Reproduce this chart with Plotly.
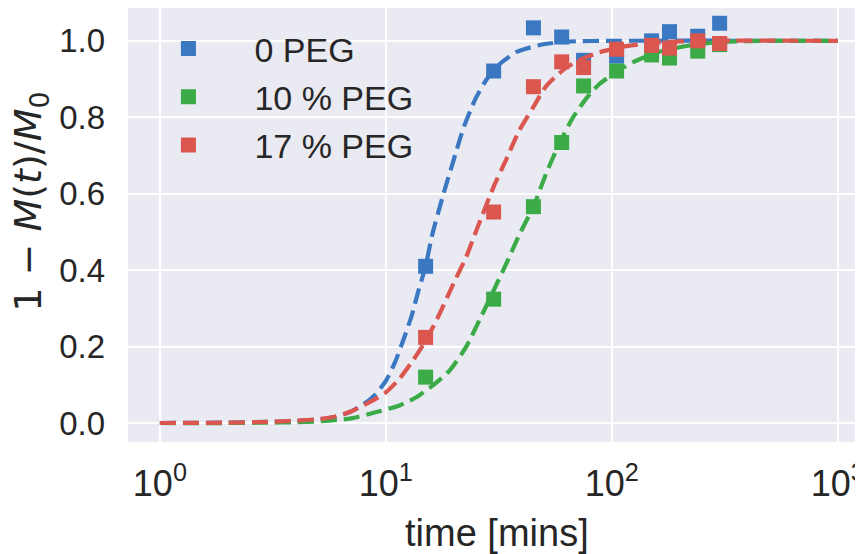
import plotly.graph_objects as go

# measured time points (minutes)
t_data = [15, 30, 45, 60, 75, 105, 150, 180, 240, 300]
peg0 = [0.410, 0.921, 1.034, 1.010, 0.949, 0.960, 1.000, 1.024, 1.012, 1.046]
peg10 = [0.120, 0.324, 0.566, 0.734, 0.882, 0.921, 0.963, 0.955, 0.973, 0.990]
peg17 = [0.224, 0.552, 0.880, 0.945, 0.930, 0.978, 0.988, 0.981, 1.000, 0.993]

# fitted curves
fit0_t = [1, 2, 3, 4, 5, 6, 7, 8, 9, 10, 11, 12, 13, 14, 15, 16, 18, 20, 22, 25,
          28, 32, 38, 48, 63, 100, 1000]
fit0_y = [0, 0.001, 0.003, 0.005, 0.009, 0.016, 0.03, 0.05, 0.075, 0.11, 0.16,
          0.22, 0.28, 0.35, 0.41, 0.49, 0.60, 0.69, 0.77, 0.85, 0.90, 0.94, 0.971,
          0.989, 0.998, 1.0, 1.0]
fit10_t = [1, 2, 3, 4, 5, 7, 9, 11.5, 13.7, 16.2, 19.2, 22.7, 26, 29.3, 34, 39.2,
           45, 51.4, 59, 67.4, 77.3, 87.4, 104, 125, 163, 245, 367, 1000]
fit10_y = [0, 0, 0.001, 0.002, 0.004, 0.012, 0.028, 0.046, 0.068, 0.099, 0.138,
           0.2, 0.27, 0.334, 0.415, 0.496, 0.566, 0.655, 0.735, 0.80, 0.85, 0.885,
           0.918, 0.945, 0.972, 0.992, 0.999, 1.0]
fit17_t = [1, 2, 3, 4, 5, 6, 7, 8, 9, 10, 11.5, 13.2, 15, 17.3, 20, 22.7, 25.2,
           30, 34, 39, 45, 51, 61, 72, 88, 116, 163, 250, 1000]
fit17_y = [0, 0.001, 0.003, 0.006, 0.01, 0.017, 0.03, 0.047, 0.063, 0.08, 0.116,
           0.164, 0.215, 0.286, 0.367, 0.435, 0.505, 0.618, 0.688, 0.766, 0.827,
           0.88, 0.924, 0.95, 0.97, 0.986, 0.996, 1.0, 1.0]

names = ['0 PEG', '10 % PEG', '17 % PEG']
colors = ['#3a78c2', '#3aab47', '#dc5650']

x_ticks = [1, 10, 100, 1000]
x_ticktext = ['10<sup>0</sup>', '10<sup>1</sup>', '10<sup>2</sup>', '10<sup>3</sup>']
y_ticks = [0, 0.2, 0.4, 0.6, 0.8, 1.0]

fig = go.Figure()
series = [(peg0, fit0_t, fit0_y), (peg10, fit10_t, fit10_y), (peg17, fit17_t, fit17_y)]
for i, (pts, ft, fy) in enumerate(series):
    fig.add_trace(go.Scatter(
        x=t_data, y=pts, mode='markers', name=names[i], legendgroup=names[i],
        marker=dict(symbol='square', size=15, color=colors[i]),
    ))
    fig.add_trace(go.Scatter(
        x=ft, y=fy, mode='lines', showlegend=False, legendgroup=names[i],
        line=dict(color=colors[i], width=4.2, dash='16px,7px', shape='spline', smoothing=0.6),
    ))

# the page body adds an 8px offset, so the plot box is placed 8px up/left
fig.update_layout(
    width=863, height=554,
    margin=dict(l=119.5, r=0, t=0, b=120.3, autoexpand=False),
    paper_bgcolor='white',
    plot_bgcolor='#eaeaf2',
    font=dict(family='Liberation Sans, Arial, sans-serif', color='#262626'),
    legend=dict(
        x=-0.0075, y=0.9723, xanchor='left', yanchor='top',
        bgcolor='rgba(0,0,0,0)', font=dict(size=34),
        itemwidth=122, tracegroupgap=1,
    ),
    xaxis=dict(
        type='log', range=[-0.141, 3.147], automargin=False,
        tickvals=x_ticks, ticktext=x_ticktext, ticklabeloverflow='allow',
        tickfont=dict(size=36),
        showgrid=True, gridcolor='white', gridwidth=1.8,
        showline=False, zeroline=False, ticks='', ticklabelstandoff=17,
    ),
    yaxis=dict(
        range=[-0.0497, 1.0859], automargin=False,
        tickvals=y_ticks, tickformat='.1f',
        tickfont=dict(size=33),
        showgrid=True, gridcolor='white', gridwidth=1.8,
        showline=False, zeroline=False, ticks='', ticklabelstandoff=22,
    ),
    annotations=[
        dict(text='time [mins]', x=0.497, y=-0.2105, xref='paper', yref='paper',
             xanchor='center', yanchor='middle', showarrow=False,
             font=dict(size=38)),
        dict(text='1 − <i>M</i>(<i>t</i>)/<i>M</i><sub>0</sub>', x=-0.1311, y=0.5527,
             xref='paper', yref='paper', xanchor='center', yanchor='middle',
             textangle=-90, showarrow=False,
             font=dict(size=38, family='DejaVu Sans')),
    ],
)

fig.write_html('out.html')
